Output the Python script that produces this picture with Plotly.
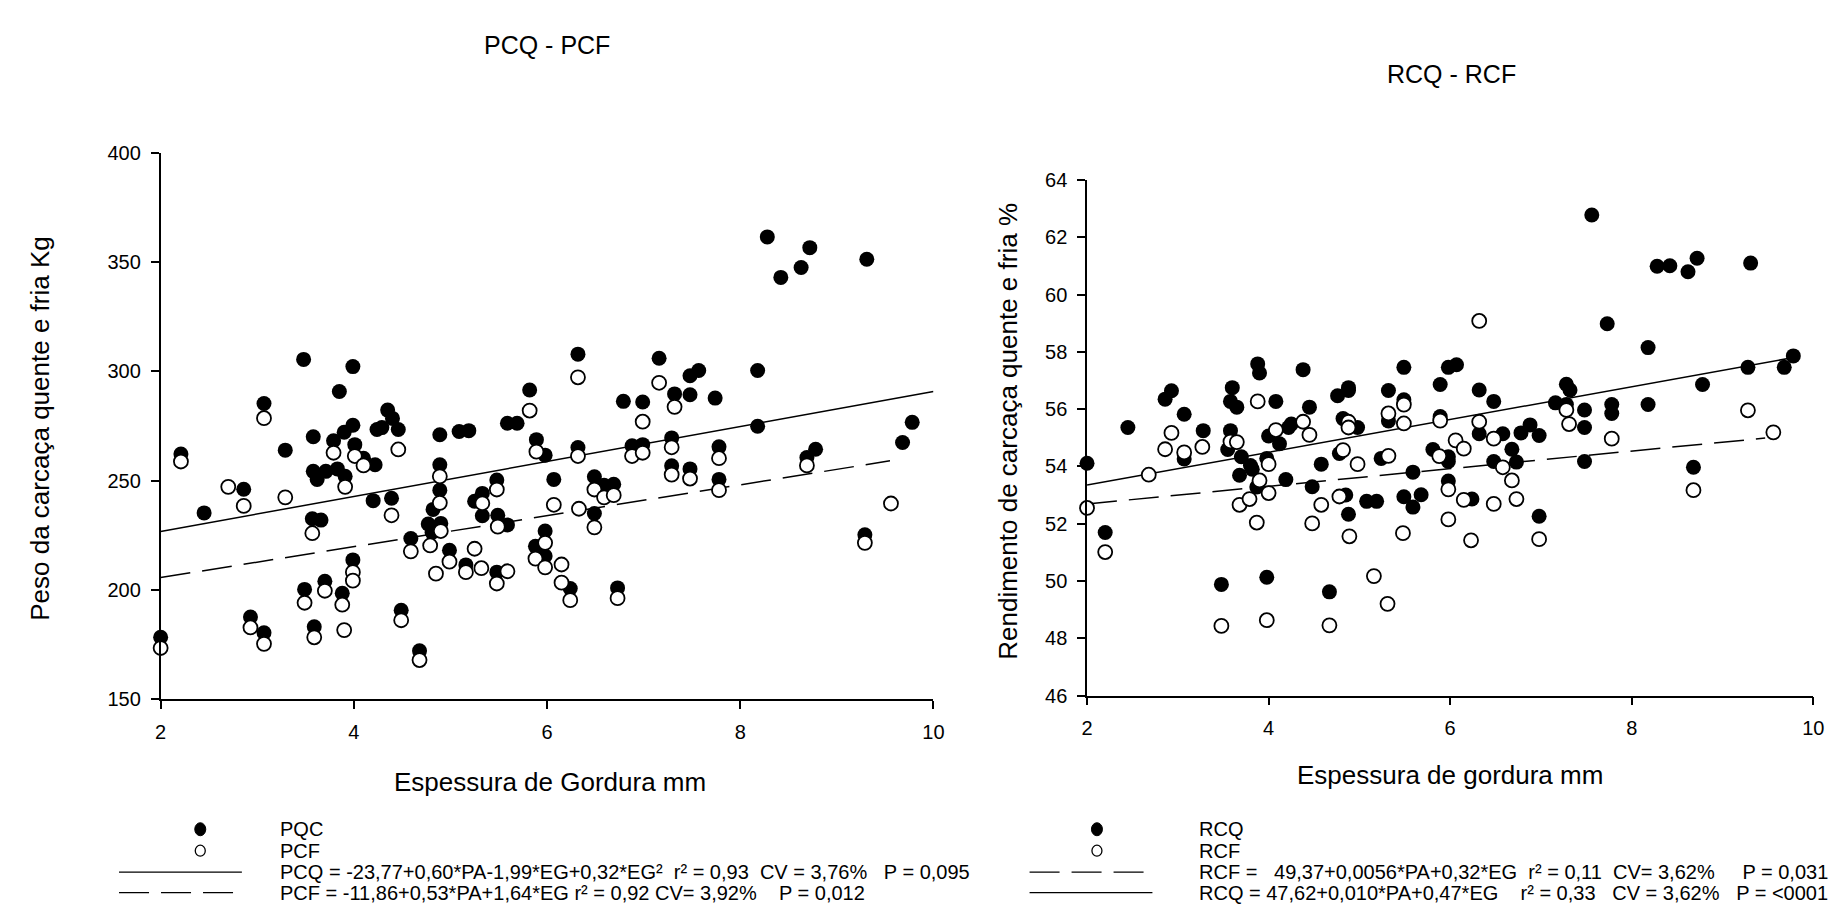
import plotly.graph_objects as go

# ---------------- data: left panel (PCQ / PCF vs fat thickness) ----------------
PCQ_X = [2.00, 2.21, 2.45, 2.86, 2.93, 3.07, 3.07, 3.29, 3.49, 3.48, 3.58, 3.58, 3.62, 3.57, 3.66,
         3.59, 3.70, 3.79, 3.71, 3.83, 3.85, 3.88, 3.90, 3.91, 3.99, 3.99, 4.01, 3.99, 4.10, 4.22,
         4.20, 4.24, 4.29, 4.35, 4.40, 4.46, 4.39, 4.49, 4.59, 4.68, 4.77, 4.81, 4.82, 4.89, 4.89,
         4.89, 4.90, 4.99, 5.09, 5.19, 5.16, 5.33, 5.25, 5.33, 5.48, 5.49, 5.59, 5.48, 5.59, 5.69,
         5.82, 5.89, 5.88, 5.98, 5.98, 5.98, 6.07, 6.24, 6.32, 6.32, 6.49, 6.49, 6.59, 6.69, 6.73,
         6.79, 6.88, 6.99, 6.99, 7.16, 7.29, 7.29, 7.32, 7.48, 7.57, 7.48, 7.48, 7.74, 7.78, 7.78,
         8.18, 8.18, 8.28, 8.42, 8.63, 8.72, 8.69, 8.78, 9.31, 9.29, 9.68, 9.78]
PCQ_Y = [178.4, 262.2, 235.3, 246.1, 187.7, 180.5, 285.3, 264.0, 200.3, 305.5, 270.1, 254.3, 250.6, 232.6, 232.0,
         183.2, 204.0, 268.3, 254.3, 255.4, 290.8, 198.5, 272.2, 252.0, 275.4, 302.2, 266.5, 213.8, 260.3, 257.3,
         240.9, 273.4, 274.3, 282.3, 278.5, 273.4, 242.0, 190.8, 223.6, 172.2, 230.2, 226.3, 236.9, 271.0, 257.3,
         245.7, 230.5, 218.2, 272.5, 272.9, 211.5, 244.2, 240.6, 234.0, 250.3, 234.2, 229.8, 208.2, 276.3, 276.3,
         291.5, 268.8, 220.0, 261.7, 227.0, 215.6, 250.6, 200.7, 307.9, 265.2, 251.8, 235.0, 247.9, 248.4, 201.0,
         286.3, 266.0, 266.5, 286.0, 306.0, 269.6, 256.8, 289.7, 298.0, 300.4, 289.3, 255.4, 287.8, 265.5, 250.6,
         300.4, 274.9, 361.5, 343.0, 347.5, 356.6, 260.6, 264.4, 351.3, 225.3, 267.5, 276.7]

PCF_X = [2.00, 2.21, 2.70, 2.86, 2.93, 3.07, 3.07, 3.29, 3.49, 3.57, 3.59, 3.70, 3.79, 3.88, 3.90,
         3.91, 4.01, 3.99, 3.99, 4.10, 4.46, 4.39, 4.49, 4.59, 4.68, 4.79, 4.89, 4.89, 4.90, 4.85,
         4.99, 5.16, 5.25, 5.33, 5.32, 5.48, 5.49, 5.48, 5.59, 5.82, 5.89, 5.88, 5.98, 5.98, 6.07,
         6.15, 6.15, 6.24, 6.32, 6.32, 6.33, 6.49, 6.49, 6.59, 6.69, 6.73, 6.88, 6.99, 6.99, 7.16,
         7.29, 7.29, 7.32, 7.48, 7.78, 7.78, 8.69, 9.56, 9.29]
PCF_Y = [173.5, 258.8, 247.2, 238.5, 182.9, 175.4, 278.6, 242.4, 194.2, 226.0, 178.4, 199.7, 262.8, 193.3, 181.7,
         247.2, 261.3, 208.2, 204.3, 257.0, 264.3, 234.2, 186.2, 217.7, 168.0, 220.4, 252.0, 239.9, 227.0, 207.5,
         213.0, 208.2, 218.9, 239.7, 210.0, 246.0, 229.0, 203.0, 208.6, 282.1, 263.3, 214.4, 221.6, 210.4, 239.0,
         211.7, 203.4, 195.4, 297.3, 261.3, 237.2, 246.0, 228.7, 242.4, 243.4, 196.3, 261.3, 262.8, 277.0, 294.8,
         265.3, 252.8, 283.8, 251.0, 260.3, 245.7, 257.0, 239.6, 221.6]

PCQ_FIT_X = [2.0, 10.0]
PCQ_FIT_Y = [226.8, 290.8]
PCF_FIT_X = [2.0, 9.55]
PCF_FIT_Y = [205.7, 259.1]

# ---------------- data: right panel (RCQ / RCF vs fat thickness) ----------------
RCQ_X = [2.00, 2.20, 2.45, 2.86, 2.93, 3.07, 3.07, 3.28, 3.48, 3.55, 3.58, 3.58, 3.60, 3.65, 3.68,
         3.70, 3.80, 3.82, 3.87, 3.88, 3.90, 3.98, 3.98, 4.00, 4.08, 4.12, 4.19, 4.22, 4.25, 4.38,
         4.45, 4.48, 4.58, 4.67, 4.76, 4.78, 4.82, 4.85, 4.88, 4.88, 4.88, 4.98, 5.08, 5.19, 5.24,
         5.32, 5.32, 5.49, 5.49, 5.49, 5.59, 5.59, 5.68, 5.81, 5.89, 5.89, 5.98, 6.07, 5.98, 5.98,
         5.98, 6.24, 6.32, 6.32, 6.48, 6.48, 6.58, 6.68, 6.73, 6.78, 6.88, 6.98, 6.98, 7.16, 7.28,
         7.32, 7.28, 7.48, 7.48, 7.48, 7.56, 7.73, 7.78, 7.78, 8.18, 8.18, 8.28, 8.42, 8.62, 8.68,
         8.72, 8.78, 9.28, 9.31, 9.68, 9.78]
RCQ_Y = [54.11, 51.69, 55.36, 56.35, 56.64, 55.82, 54.26, 55.25, 49.88, 54.59, 55.25, 56.27, 56.75, 56.07, 53.69,
         54.34, 54.03, 53.90, 53.28, 57.58, 57.26, 54.28, 50.13, 55.06, 56.27, 54.79, 53.54, 55.36, 55.48, 57.38,
         56.07, 53.29, 54.08, 49.62, 56.47, 54.45, 55.67, 53.00, 56.75, 56.65, 52.33, 55.36, 52.78, 52.78, 54.28,
         56.65, 55.59, 57.46, 56.33, 52.94, 52.58, 53.80, 53.01, 54.59, 56.86, 55.74, 57.46, 57.55, 54.34, 54.17,
         53.49, 52.86, 56.67, 55.14, 56.27, 54.17, 55.14, 54.60, 54.15, 55.17, 55.45, 55.08, 52.26, 56.22, 56.87,
         56.67, 56.16, 55.97, 55.36, 54.17, 62.78, 58.98, 56.16, 55.85, 58.15, 56.16, 60.99, 61.01, 60.80, 53.97,
         61.27, 56.86, 57.46, 61.10, 57.46, 57.86]

RCF_X = [2.00, 2.20, 2.68, 2.86, 2.93, 3.07, 3.27, 3.48, 3.58, 3.65, 3.68, 3.79, 3.87, 3.88, 3.90,
         3.98, 4.00, 4.00, 4.08, 4.38, 4.45, 4.48, 4.58, 4.67, 4.78, 4.82, 4.88, 4.88, 4.89, 4.98,
         5.16, 5.31, 5.32, 5.32, 5.48, 5.49, 5.49, 5.88, 5.89, 5.98, 5.98, 6.06, 6.15, 6.15, 6.23,
         6.32, 6.32, 6.48, 6.48, 6.58, 6.68, 6.73, 6.98, 7.28, 7.31, 7.78, 8.68, 9.28, 9.56]
RCF_Y = [52.55, 51.01, 53.71, 54.60, 55.17, 54.49, 54.68, 48.43, 54.87, 54.85, 52.66, 52.86, 52.04, 56.27, 53.51,
         48.63, 54.08, 53.07, 55.27, 55.56, 55.10, 52.01, 52.66, 48.45, 52.95, 54.57, 55.56, 55.36, 51.56, 54.08,
         50.17, 49.20, 55.85, 54.37, 51.67, 56.16, 55.50, 54.36, 55.60, 53.20, 52.15, 54.91, 54.62, 52.83, 51.42,
         59.08, 55.56, 54.97, 52.69, 53.97, 53.51, 52.86, 51.46, 55.97, 55.48, 54.97, 53.17, 55.96, 55.19]

RCQ_FIT_X = [2.0, 9.78]
RCQ_FIT_Y = [53.35, 57.80]
RCF_FIT_X = [2.0, 9.47]
RCF_FIT_Y = [52.69, 54.99]

LEFT_TICKS_X = [2, 4, 6, 8, 10]
LEFT_TICKS_Y = [150, 200, 250, 300, 350, 400]
RIGHT_TICKS_X = [2, 4, 6, 8, 10]
RIGHT_TICKS_Y = [46, 48, 50, 52, 54, 56, 58, 60, 62, 64]

LEFT_LEGEND = ["PQC", "PCF",
               "PCQ = -23,77+0,60*PA-1,99*EG+0,32*EG²&nbsp; r² = 0,93&nbsp; CV = 3,76%&nbsp;&nbsp; P = 0,095",
               "PCF = -11,86+0,53*PA+1,64*EG r² = 0,92 CV= 3,92%&nbsp;&nbsp;&nbsp; P = 0,012"]
RIGHT_LEGEND = ["RCQ", "RCF",
                "RCF = &nbsp;&nbsp;49,37+0,0056*PA+0,32*EG&nbsp; r² = 0,11&nbsp; CV= 3,62%&nbsp;&nbsp;&nbsp;&nbsp; P = 0,031",
                "RCQ = 47,62+0,010*PA+0,47*EG&nbsp;&nbsp;&nbsp; r² = 0,33&nbsp;&nbsp; CV = 3,62%&nbsp;&nbsp; P = &lt;0001"]

W, H = 1847, 924
FONT = "Liberation Sans, Arial, sans-serif"
DASH = "30px,12px"

def px_x(p):
    return p / W

def px_y(p):
    return 1 - p / H

fig = go.Figure()

filled = dict(size=15, color="black", line=dict(width=0))
hollow = dict(size=14, color="white", line=dict(width=1.8, color="black"))

# left panel
fig.add_trace(go.Scatter(x=PCQ_FIT_X, y=PCQ_FIT_Y, mode="lines", line=dict(color="black", width=1.5),
                         xaxis="x", yaxis="y", showlegend=False))
fig.add_trace(go.Scatter(x=PCF_FIT_X, y=PCF_FIT_Y, mode="lines", line=dict(color="black", width=1.5, dash=DASH),
                         xaxis="x", yaxis="y", showlegend=False))
fig.add_trace(go.Scatter(x=PCQ_X, y=PCQ_Y, mode="markers", marker=filled, cliponaxis=False,
                         xaxis="x", yaxis="y", name="PQC", showlegend=False))
fig.add_trace(go.Scatter(x=PCF_X, y=PCF_Y, mode="markers", marker=hollow, cliponaxis=False,
                         xaxis="x", yaxis="y", name="PCF", showlegend=False))

# right panel
fig.add_trace(go.Scatter(x=RCQ_FIT_X, y=RCQ_FIT_Y, mode="lines", line=dict(color="black", width=1.5),
                         xaxis="x2", yaxis="y2", showlegend=False))
fig.add_trace(go.Scatter(x=RCF_FIT_X, y=RCF_FIT_Y, mode="lines", line=dict(color="black", width=1.5, dash=DASH),
                         xaxis="x2", yaxis="y2", showlegend=False))
fig.add_trace(go.Scatter(x=RCQ_X, y=RCQ_Y, mode="markers", marker=filled, cliponaxis=False,
                         xaxis="x2", yaxis="y2", name="RCQ", showlegend=False))
fig.add_trace(go.Scatter(x=RCF_X, y=RCF_Y, mode="markers", marker=hollow, cliponaxis=False,
                         xaxis="x2", yaxis="y2", name="RCF", showlegend=False))

axis_common = dict(showline=True, linecolor="black", linewidth=1.5, ticks="outside", ticklen=8,
                   tickwidth=1.5, tickcolor="black", showgrid=False, zeroline=False,
                   ticklabelstandoff=6,
                   tickfont=dict(size=20, color="black", family=FONT))

fig.update_layout(
    width=W, height=H, margin=dict(l=0, r=0, t=0, b=0),
    paper_bgcolor="white", plot_bgcolor="white",
    font=dict(family=FONT, color="black"),
    xaxis=dict(domain=[px_x(148), px_x(928)], range=[2, 10], tickvals=LEFT_TICKS_X, anchor="y", **axis_common),
    yaxis=dict(domain=[px_y(697), px_y(137)], range=[150, 400], tickvals=LEFT_TICKS_Y, anchor="x", **axis_common),
    xaxis2=dict(domain=[px_x(1083), px_x(1816)], range=[2, 10], tickvals=RIGHT_TICKS_X, anchor="y2", **axis_common),
    yaxis2=dict(domain=[px_y(693), px_y(165)], range=[46, 64], tickvals=RIGHT_TICKS_Y, anchor="x2", **axis_common),
)

ann = []
def text(x, y, s, size, angle=0, xanchor="center"):
    ann.append(dict(x=px_x(x), y=px_y(y), xref="paper", yref="paper", text=s, showarrow=False,
                    font=dict(size=size, family=FONT, color="black"), textangle=angle,
                    xanchor=xanchor, yanchor="middle"))

text(538, 27, "PCQ - PCF", 25)
text(1451, 56, "RCQ - RCF", 25)
text(541, 782, "Espessura de Gordura mm", 26)
text(1449, 774, "Espessura de gordura mm", 26)
text(26, 420, "Peso da carcaça quente e fria Kg", 26, angle=-90)
text(1003, 422, "Rendimento de carcaça quente e fria %", 26, angle=-90)

shapes = []
rows = [830, 852, 874, 895]

def legend_block(mx, tx, lx0, lx1, labels, line_styles):
    shapes.append(dict(type="circle", xref="paper", yref="paper", xsizemode="pixel", ysizemode="pixel",
                       xanchor=px_x(mx), yanchor=px_y(rows[0]), x0=-5.5, x1=5.5, y0=-6.5, y1=6.5,
                       fillcolor="black", line=dict(color="black", width=1)))
    shapes.append(dict(type="circle", xref="paper", yref="paper", xsizemode="pixel", ysizemode="pixel",
                       xanchor=px_x(mx), yanchor=px_y(rows[1]), x0=-5, x1=5, y0=-5.5, y1=5.5,
                       fillcolor="white", line=dict(color="black", width=1.3)))
    for i, dash in zip((2, 3), line_styles):
        shapes.append(dict(type="line", xref="paper", yref="paper",
                           x0=px_x(lx0), x1=px_x(lx1), y0=px_y(rows[i]), y1=px_y(rows[i]),
                           line=dict(color="black", width=1.3, dash=dash)))
    for i, s in enumerate(labels):
        text(tx, rows[i], s, 20, xanchor="left")

legend_block(188, 266, 106, 230, LEFT_LEGEND, ["solid", DASH])
legend_block(1093, 1194, 1025, 1149, RIGHT_LEGEND, [DASH, "solid"])

fig.update_layout(annotations=ann, shapes=shapes)
fig.write_html("out.html")
